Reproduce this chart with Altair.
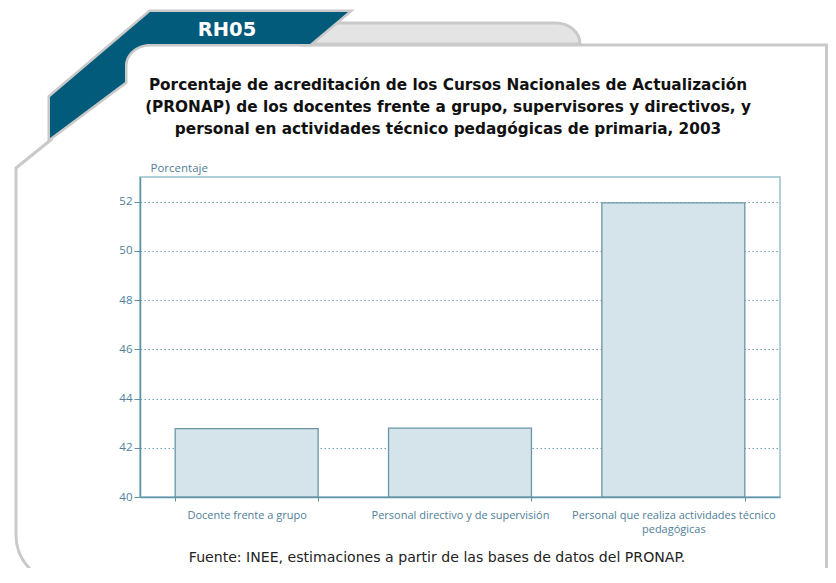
import altair as alt
import pandas as pd

# ---- data ----
categorias = [
    "Docente frente a grupo",
    "Personal directivo y de supervisión",
    "Personal que realiza actividades técnico pedagógicas",
]
porcentajes = [42.78, 42.80, 51.95]
y_ticks = [40, 42, 44, 46, 48, 50, 52]
y_base = 40

titulo = [
    "Porcentaje de acreditación de los Cursos Nacionales de Actualización",
    "(PRONAP) de los docentes frente a grupo, supervisores y directivos, y",
    "personal en actividades técnico pedagógicas de primaria, 2003",
]
etiqueta = "RH05"
fuente = "Fuente: INEE, estimaciones a partir de las bases de datos del PRONAP."

df = pd.DataFrame({"cat": categorias, "pct": porcentajes})

TEAL = "#025b7b"
GRAY = "#c9c9c9"
AXIS = "#5f93a8"
LABEL = "#4f8099"

W, H = 640, 320
PAD = {"left": 132, "top": 169, "right": 48, "bottom": 71}
# page origin expressed in plot coordinates (page = svg + 8)
OX, OY = -(PAD["left"] + 8), -(PAD["top"] + 8)

one = alt.Data(values=[{"k": 1}])


def deco(path, **kw):
    return alt.Chart(one).mark_point(shape=path, size=4, opacity=1, **kw).encode(
        x=alt.value(OX), y=alt.value(OY)
    )


# decorative frame (page coordinates in paths)
card_lines = deco("M300,45 L826.5,45 L826.5,600", filled=False, stroke=GRAY, strokeWidth=3)
tab = deco("M320,23 L556,23 A24,21 0 0 1 580,44 L300,44 Z", filled=True,
           fill="#e4e4e4", stroke=GRAY, strokeWidth=3)
outer_left = deco("M52,139 L16,168 L16,535 A48,48 0 0 0 64,583", filled=False,
                  stroke=GRAY, strokeWidth=3)
teal_path = "M50,138 L50,97 L150,12 L348,12 L310,44 L150,44 A25,22 0 0 0 125,66 L125,82 Z"
teal_edge = deco(teal_path, filled=False, stroke=GRAY, strokeWidth=5, strokeJoin="miter")
teal_fill = deco(teal_path, filled=True, fill=TEAL, strokeWidth=0)

rh = alt.Chart(one).mark_text(
    text=etiqueta, font="DejaVu Sans", fontSize=19.5, fontWeight="bold", color="white",
    align="center", baseline="middle"
).encode(x=alt.value(227 + OX), y=alt.value(30 + OY))

title = alt.Chart(one).mark_text(
    text=titulo, font="DejaVu Sans", fontSize=15.3, fontWeight="bold", color="#111111",
    align="center", baseline="alphabetic", lineHeight=22
).encode(x=alt.value(448 + OX), y=alt.value(90 + OY))

foot = alt.Chart(one).mark_text(
    text=fuente, font="DejaVu Sans", fontSize=14.1, color="#222222",
    align="center", baseline="middle"
).encode(x=alt.value(437 + OX), y=alt.value(558 + OY))

label_expr = (
    "datum.label == 'Personal que realiza actividades técnico pedagógicas' ? "
    "['Personal que realiza actividades técnico', 'pedagógicas'] : datum.label"
)

bars = alt.Chart(df).mark_bar(
    fill="#d5e3eb", stroke="#6a96a7", strokeWidth=1.3
).encode(
    x=alt.X(
        "cat:N", sort=categorias,
        scale=alt.Scale(paddingInner=0.33, paddingOuter=0.165),
        axis=alt.Axis(
            title=None, labelAngle=0, labelExpr=label_expr, tickBand="extent",
            tickSize=4, tickColor=AXIS, domainColor=AXIS, domainWidth=1.5,
            labelColor=LABEL, labelFont="Open Sans", labelFontSize=11,
            labelPadding=8, labelLineHeight=14, labelLimit=400,
        ),
    ),
    y=alt.Y(
        "pct:Q",
        scale=alt.Scale(domain=[40, 53], nice=False, zero=False),
        axis=alt.Axis(
            values=y_ticks, title="Porcentaje", titleAngle=0, titleAlign="left",
            titleBaseline="middle", titleX=10, titleY=-9, titleColor=LABEL,
            titleFont="Open Sans", titleFontSize=11.5, titleFontWeight="normal",
            grid=True, gridColor="#6f9db0", gridDash=[1.5, 2.5], gridWidth=1.1,
            tickSize=6, tickColor=AXIS, domainColor=AXIS, domainWidth=1.5,
            labelColor=LABEL, labelFont="Open Sans", labelFontSize=11.5,
            labelPadding=2,
        ),
    ),
    y2=alt.datum(y_base),
)

chart = alt.layer(
    card_lines, tab, outer_left, teal_edge, teal_fill, rh, title, foot, bars
).properties(
    width=W, height=H,
    autosize=alt.AutoSizeParams(type="none"),
    padding=PAD,
    background="white",
).configure_view(stroke="#96c0cf", strokeWidth=1.5)

chart.save("out.html", embed_options={"renderer": "svg", "actions": False})
